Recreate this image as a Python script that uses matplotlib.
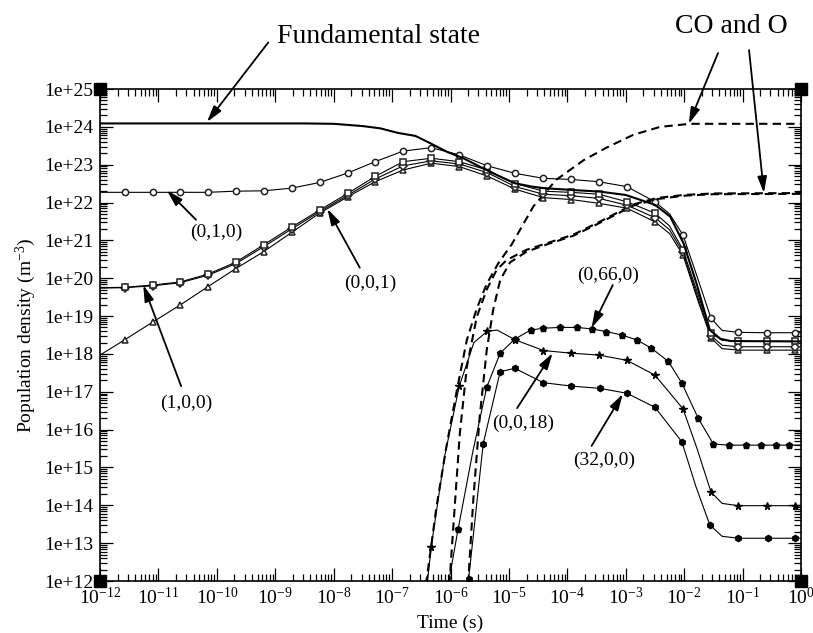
import numpy as np
import matplotlib
matplotlib.use("Agg")
import matplotlib.pyplot as plt
from matplotlib.ticker import FixedLocator, FixedFormatter, LogLocator, NullFormatter

plt.rcParams['font.family'] = ['Liberation Serif', 'DejaVu Serif']
plt.rcParams['mathtext.fontset'] = 'custom'
plt.rcParams['mathtext.rm'] = 'Liberation Serif'
plt.rcParams['mathtext.it'] = 'Liberation Serif:italic'
plt.rcParams['mathtext.bf'] = 'Liberation Serif:bold'

# ---------------- data (log10 of time [s] and log10 of density [m^-3]) -------------
# upper group (open markers) share one time grid
LOGT_UP = [-12.00, -11.58, -11.10, -10.63, -10.15, -9.68, -9.20, -8.72, -8.24, -7.76,
           -7.29, -6.81, -6.33, -5.85, -5.37, -4.89, -4.41, -3.94, -3.46, -2.98,
           -2.50, -2.25, -2.02, -1.78, -1.54, -1.35, -1.07, -0.59, -0.11, 0.00]
MARK_UP = [1, 2, 3, 4, 5, 6, 7, 8, 9, 10, 11, 12, 13, 14, 15, 16, 17, 18, 19, 20,
           22, 24, 26, 27, 28]
LOGN_010 = [22.27, 22.27, 22.27, 22.27, 22.27, 22.30, 22.31, 22.38, 22.53, 22.78,
            23.08, 23.36, 23.45, 23.26, 22.97, 22.77, 22.64, 22.61, 22.55, 22.42,
            22.02, 21.70, 21.14, 20.05, 18.94, 18.62, 18.57, 18.56, 18.56, 18.56]
LOGN_100 = [19.75, 19.76, 19.82, 19.90, 20.11, 20.42, 20.88, 21.35, 21.80, 22.24,
            22.69, 23.08, 23.17, 23.08, 22.86, 22.50, 22.30, 22.27, 22.22, 22.02,
            21.72, 21.38, 20.75, 19.65, 18.55, 18.36, 18.33, 18.33, 18.33, 18.33]
LOGN_OTHER = [19.74, 19.75, 19.80, 19.88, 20.08, 20.38, 20.83, 21.30, 21.76, 22.19,
              22.62, 22.97, 23.10, 23.02, 22.79, 22.42, 22.22, 22.18, 22.11, 21.93,
              21.60, 21.28, 20.68, 19.55, 18.48, 18.23, 18.19, 18.19, 18.19, 18.19]
LOGN_001 = [17.97, 18.37, 18.84, 19.29, 19.78, 20.25, 20.70, 21.21, 21.72, 22.15,
            22.55, 22.86, 23.04, 22.95, 22.70, 22.35, 22.13, 22.08, 21.98, 21.85,
            21.49, 21.18, 20.61, 19.48, 18.42, 18.14, 18.10, 18.10, 18.10, 18.10]

# fundamental state (thick line)
LOGT_FUND = [-12.0, -8.5, -8.0, -7.5, -7.2, -6.9, -6.6, -6.35, -6.06, -5.78, -5.5, -5.2,
             -4.9, -4.6, -4.4, -3.9, -3.45, -3.0, -2.5, -2.24, -2.01, -1.79, -1.56,
             -1.38, -1.2, 0.0]
LOGN_FUND = [24.09, 24.09, 24.08, 24.02, 23.96, 23.84, 23.76, 23.57, 23.34, 23.17, 22.95,
             22.72, 22.51, 22.42, 22.38, 22.33, 22.29, 22.20, 21.94, 21.63, 20.92, 19.87,
             18.63, 18.40, 18.34, 18.33]

# lower group (filled markers)
LOGT_0018 = [-6.40, -6.33, -6.10, -5.85, -5.60, -5.37, -5.20, -4.89, -4.41, -3.94, -3.46,
             -2.98, -2.50, -2.02, -1.78, -1.54, -1.35, -1.07, -0.59, -0.11, 0.0]
LOGN_0018 = [11.90, 12.91, 15.30, 17.15, 18.30, 18.60, 18.63, 18.37, 18.09, 18.02, 17.97,
             17.83, 17.44, 16.55, 15.50, 14.35, 14.05, 13.99, 13.99, 13.99, 13.99]
MARK_0018 = [1, 3, 5, 7, 8, 9, 10, 11, 12, 13, 15, 17, 18, 19]

LOGT_0660 = [-6.04, -5.87, -5.62, -5.38, -5.15, -4.90, -4.63, -4.41, -4.12, -3.83, -3.58,
             -3.33, -3.07, -2.81, -2.56, -2.27, -2.04, -1.76, -1.50, -1.24, -0.95, -0.69,
             -0.42, -0.21, 0.0]
LOGN_0660 = [11.90, 13.37, 15.40, 17.12, 18.02, 18.39, 18.63, 18.68, 18.70, 18.70, 18.66,
             18.59, 18.50, 18.37, 18.15, 17.80, 17.23, 16.30, 15.62, 15.59, 15.59, 15.59,
             15.59, 15.59, 15.59]
MARK_0660 = [1, 3, 4, 5, 6, 7, 8, 9, 10, 11, 12, 13, 14, 15, 16, 17, 18, 19, 20, 21, 22, 23]

LOGT_3200 = [-5.72, -5.69, -5.44, -5.15, -4.90, -4.41, -3.93, -3.44, -2.98, -2.50, -2.04,
             -1.80, -1.56, -1.35, -1.07, -0.56, -0.10, 0.0]
LOGN_3200 = [11.80, 12.05, 15.63, 17.53, 17.62, 17.24, 17.15, 17.09, 16.96, 16.59, 15.68,
             14.50, 13.48, 13.18, 13.13, 13.13, 13.13, 13.13]
MARK_3200 = [1, 2, 3, 4, 5, 6, 7, 8, 9, 10, 12, 14, 15, 16]

# CO and O (dashed)
LOGT_D1 = [-6.42, -6.24, -6.07, -5.89, -5.72, -5.55, -5.38, -5.18, -4.95, -4.58, -4.19,
           -3.72, -3.33, -2.87, -2.41, -1.90, 0.0]
LOGN_D1 = [11.90, 13.96, 15.55, 17.05, 18.37, 19.20, 19.85, 20.40, 20.90, 21.90, 22.60,
           23.12, 23.45, 23.79, 24.00, 24.08, 24.08]
LOGT_D2 = [-6.02, -5.92, -5.84, -5.72, -5.55, -5.38, -5.21, -5.04, -4.70, -4.30, -3.90,
           -3.50, -3.16, -2.87, -2.47, -2.01, -1.50, 0.0]
LOGN_D2 = [11.90, 14.14, 15.90, 17.66, 18.98, 19.70, 20.22, 20.48, 20.75, 20.95, 21.15,
           21.45, 21.72, 21.95, 22.12, 22.20, 22.24, 22.25]
LOGT_D3 = [-5.70, -5.61, -5.50, -5.38, -5.27, -5.15, -4.98, -4.70, -4.30, -3.90, -3.50,
           -3.16, -2.87, -2.47, -2.01, -1.50, 0.0]
LOGN_D3 = [11.90, 14.14, 16.34, 18.10, 19.16, 19.95, 20.42, 20.70, 20.92, 21.12, 21.42,
           21.69, 21.92, 22.09, 22.18, 22.22, 22.23]

XTICKS = [1e-12, 1e-11, 1e-10, 1e-9, 1e-8, 1e-7, 1e-6, 1e-5, 1e-4, 1e-3, 1e-2, 1e-1, 1e0]
XTICK_LABELS = [r'$\mathregular{10^{-12}}$', r'$\mathregular{10^{-11}}$', r'$\mathregular{10^{-10}}$',
                r'$\mathregular{10^{-9}}$', r'$\mathregular{10^{-8}}$', r'$\mathregular{10^{-7}}$',
                r'$\mathregular{10^{-6}}$', r'$\mathregular{10^{-5}}$', r'$\mathregular{10^{-4}}$',
                r'$\mathregular{10^{-3}}$', r'$\mathregular{10^{-2}}$', r'$\mathregular{10^{-1}}$',
                r'$\mathregular{10^{0}}$']
YTICKS = [1e12, 1e13, 1e14, 1e15, 1e16, 1e17, 1e18, 1e19, 1e20, 1e21, 1e22, 1e23, 1e24, 1e25]
YTICK_LABELS = ['1e+12', '1e+13', '1e+14', '1e+15', '1e+16', '1e+17', '1e+18', '1e+19',
                '1e+20', '1e+21', '1e+22', '1e+23', '1e+24', '1e+25']

# annotations: (label, text position, arrow tail, arrow tip) in data units
LABELS = [
    ('(0,1,0)', (9.8e-11, 1.6e21), (4.4e-11, 3.5e21), (1.4e-11, 2.1e22)),
    ('(0,0,1)', (4.2e-8, 7.4e19), (2.8e-8, 1.9e20), (7.8e-9, 6.8e21)),
    ('(1,0,0)', (2.95e-11, 5.0e16), (2.45e-11, 1.4e17), (5.5e-12, 6.6e19)),
    ('(0,66,0)', (5.0e-4, 1.2e20), (6.0e-4, 6.6e19), (2.6e-4, 4.9e18)),
    ('(0,0,18)', (1.74e-5, 1.5e16), (1.38e-5, 3.7e16), (5.6e-5, 1.05e18)),
    ('(32,0,0)', (4.3e-4, 1.5e15), (2.6e-4, 3.7e15), (8.9e-4, 8.7e16)),
]
BIG_LABELS = [
    ('Fundamental state', (1.07e-9, 1.6e26), [((7.6e-10, 1.7e26), (6.8e-11, 1.35e24))]),
    ('CO and O', (7.0e-3, 3.0e26), [((3.8e-2, 8.9e25), (1.2e-2, 1.2e24)),
                                    ((0.129, 1.07e26), (0.232, 1.78e22))]),
]


def lin(v):
    return 10.0 ** np.asarray(v, dtype=float)


fig = plt.figure(figsize=(8.13, 6.33), dpi=100)
ax = fig.add_axes([100 / 813, 1 - 581 / 633, 701 / 813, 492 / 633])
ax.set_xscale('log')
ax.set_yscale('log')
ax.set_xlim(1e-12, 1e0)
ax.set_ylim(1e12, 1e25)

dash = (0, (4, 2.5))
for lt, ln in [(LOGT_D1, LOGN_D1), (LOGT_D2, LOGN_D2), (LOGT_D3, LOGN_D3)]:
    ax.plot(lin(lt), lin(ln), color='black', lw=1.5, linestyle=dash)

for lt, ln, mk, m in [(LOGT_0660, LOGN_0660, MARK_0660, 'p'),
                      (LOGT_0018, LOGN_0018, MARK_0018, '*'),
                      (LOGT_3200, LOGN_3200, MARK_3200, 'h')]:
    ax.plot(lin(lt), lin(ln), color='black', lw=0.8, marker=m, markevery=mk,
            ms=5.5 if m == '*' else 4.5, mfc='black', mec='black')

for ln, m in [(LOGN_001, '^'), (LOGN_OTHER, 'D'), (LOGN_100, 's'), (LOGN_010, 'o')]:
    ax.plot(lin(LOGT_UP), lin(ln), color='black', lw=0.8, marker=m, markevery=MARK_UP,
            ms=4.5 if m != 'D' else 3.8, mfc='white', mec='#222222', mew=1.1)

ax.plot(lin(LOGT_FUND), lin(LOGN_FUND), color='black', lw=1.5)

# axes styling
ax.xaxis.set_major_locator(FixedLocator(XTICKS))
ax.xaxis.set_major_formatter(FixedFormatter(XTICK_LABELS))
ax.yaxis.set_major_locator(FixedLocator(YTICKS))
ax.yaxis.set_major_formatter(FixedFormatter(YTICK_LABELS))
ax.xaxis.set_minor_locator(LogLocator(base=10, subs=np.arange(2, 10), numticks=200))
ax.yaxis.set_minor_locator(LogLocator(base=10, subs=np.arange(2, 10), numticks=200))
ax.xaxis.set_minor_formatter(NullFormatter())
ax.yaxis.set_minor_formatter(NullFormatter())
ax.tick_params(which='both', direction='in', top=True, right=True, width=0.9, labelsize=14)
ax.tick_params(which='major', length=9.5)
ax.tick_params(which='minor', length=5)
ax.tick_params(axis='x', which='major', pad=4)
ax.tick_params(axis='y', which='major', pad=5)
for sp in ax.spines.values():
    sp.set_linewidth(1.2)

ax.set_xlabel('Time (s)', fontsize=14, labelpad=5)
ax.set_ylabel(r'Population density (m$^{\mathregular{-3}}$)', fontsize=14, labelpad=4)

# corner squares
ax.plot([0, 0, 1, 1], [0, 1, 0, 1], 's', color='black', ms=8,
        transform=ax.transAxes, clip_on=False)

arrow_kw = dict(arrowstyle='-|>,head_length=0.7,head_width=0.2', color='black', lw=1.3,
                shrinkA=0, shrinkB=0, mutation_scale=14)
for txt, pos, tail, tip in LABELS:
    ax.text(pos[0], pos[1], txt, fontsize=14, ha='center', va='center', clip_on=False)
    ax.annotate('', xy=tip, xytext=tail, arrowprops=arrow_kw, annotation_clip=False)

for txt, pos, arrows in BIG_LABELS:
    ax.text(pos[0], pos[1], txt, fontsize=20, ha='left', va='baseline', clip_on=False)
    for tail, tip in arrows:
        ax.annotate('', xy=tip, xytext=tail, arrowprops=arrow_kw, annotation_clip=False)

fig.savefig('out.png', dpi=100)
